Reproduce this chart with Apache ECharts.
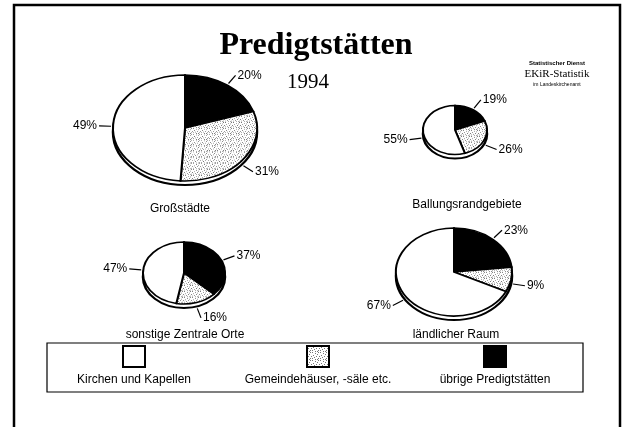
<!DOCTYPE html>
<html lang="de">
<head>
  <meta charset="UTF-8">
  <title>Predigtstätten 1994</title>
  <style>
  html, body { margin: 0; padding: 0; background: #fff; }
  #main { width: 624px; height: 427px; }
  </style>
  <script src="https://cdn.jsdelivr.net/npm/echarts@6/dist/echarts.min.js"></script>
</head>
<body>
  <div id="main"></div>
  <script>
  // Daten (Anteile in %)
  var regions = ['Großstädte', 'Ballungsrandgebiete', 'sonstige Zentrale Orte', 'ländlicher Raum'];
  var kinds = ['übrige Predigtstätten', 'Gemeindehäuser, -säle etc.', 'Kirchen und Kapellen'];
  var uebrige = [20, 19, 37, 23];
  var gemeinde = [31, 26, 16, 9];
  var kirchen = [49, 55, 47, 67];
  var legendOrder = ['Kirchen und Kapellen', 'Gemeindehäuser, -säle etc.', 'übrige Predigtstätten'];

  var SANS = '"Liberation Sans", Arial, sans-serif';
  var SERIF = '"Liberation Serif", "Times New Roman", serif';

  // gepunktetes Raster fuer die Gemeindehaeuser
  function makeDots() {
    var c = document.createElement('canvas');
    c.width = 8; c.height = 8;
    var g = c.getContext('2d');
    g.fillStyle = '#fff';
    g.fillRect(0, 0, 8, 8);
    g.fillStyle = '#777';
    var pts = [[0,0],[3,1],[6,0],[1,3],[5,2],[7,4],[2,5],[4,4],[0,6],[6,6],[3,7],[5,7]];
    pts.forEach(function (p) { g.fillRect(p[0], p[1], 1, 1); });
    return c;
  }
  var dots = { image: makeDots(), repeat: 'repeat' };
  var fills = ['#000', dots, '#fff'];

  // Lage der Torten (Mitte, Radien)
  var pies = [
    { cx: 185, cy: 128, rx: 72, ry: 53, tx: 180, ty: 209 },
    { cx: 455, cy: 130, rx: 32, ry: 24.5, tx: 467, ty: 205 },
    { cx: 184, cy: 273, rx: 41, ry: 31, tx: 185, ty: 335 },
    { cx: 454, cy: 272, rx: 58, ry: 44, tx: 456, ty: 335 }
  ];
  var RIM = 4;

  function makeSeries(p, idx) {
    var vals = [uebrige[idx], gemeinde[idx], kirchen[idx]];
    var total = vals.reduce(function (a, b) { return a + b; }, 0);
    var s = p.ry / p.rx;
    return {
      type: 'custom',
      name: regions[idx],
      coordinateSystem: 'none',
      data: vals.map(function (v, k) { return { name: kinds[k], value: v }; }),
      renderItem: function (params, api) {
        var k = params.dataIndex;
        var before = 0;
        for (var j = 0; j < k; j++) before += vals[j];
        var a0 = before / total, a1 = (before + vals[k]) / total;
        var children = [];
        if (k === 0) {
          children.push({
            type: 'circle',
            shape: { cx: 0, cy: RIM / s, r: p.rx },
            style: { fill: '#fff', stroke: '#000', lineWidth: 2.5, strokeNoScale: true }
          });
        }
        children.push({
          type: 'sector',
          shape: {
            cx: 0, cy: 0, r0: 0, r: p.rx,
            startAngle: -Math.PI / 2 + 2 * Math.PI * a0,
            endAngle: -Math.PI / 2 + 2 * Math.PI * a1,
            clockwise: true
          },
          style: { fill: fills[k], stroke: '#000', lineWidth: 2, strokeNoScale: true }
        });
        // Beschriftung
        var th = 2 * Math.PI * (a0 + a1) / 2;
        var dx = Math.sin(th), dy = -Math.cos(th);
        var ex = p.cx + p.rx * dx;
        var ey = p.cy + p.ry * dy + (dy > 0 ? RIM : 0);
        var len = Math.sqrt(dx * dx + dy * dy);
        var x1 = ex + 14 * dx / len, y1 = ey + 12 * dy / len;
        var right = dx >= 0;
        return {
          type: 'group',
          children: [
            { type: 'group', x: p.cx, y: p.cy, scaleY: s, children: children },
            {
              type: 'line',
              shape: { x1: ex + 2 * dx, y1: ey + 2 * dy, x2: x1, y2: y1 },
              style: { stroke: '#000', lineWidth: 1.2 }
            },
            {
              type: 'text',
              x: x1 + (right ? 2 : -2), y: y1,
              style: {
                text: vals[k] + '%', fill: '#000',
                font: '12px ' + SANS,
                align: right ? 'left' : 'right', verticalAlign: 'middle'
              }
            }
          ]
        };
      }
    };
  }

  var graphics = [
    // Rahmen
    { type: 'polyline', shape: { points: [[14, 427], [14, 5], [620, 5], [620, 427]] },
      style: { stroke: '#000', lineWidth: 2.5, fill: null } },
    { type: 'text', x: 316, y: 46, style: { text: 'Predigtstätten', font: 'bold 32px ' + SERIF,
      fill: '#000', align: 'center', verticalAlign: 'middle' } },
    { type: 'text', x: 308, y: 82, style: { text: '1994', font: '21px ' + SERIF,
      fill: '#000', align: 'center', verticalAlign: 'middle' } },
    { type: 'text', x: 557, y: 63, style: { text: 'Statistischer Dienst', font: 'bold 6px ' + SANS,
      fill: '#000', align: 'center', verticalAlign: 'middle' } },
    { type: 'text', x: 557, y: 74, style: { text: 'EKiR-Statistik', font: '11px ' + SERIF,
      fill: '#000', align: 'center', verticalAlign: 'middle' } },
    { type: 'text', x: 557, y: 85, style: { text: 'im Landeskirchenamt', font: '5px ' + SANS,
      fill: '#000', align: 'center', verticalAlign: 'middle' } },
    // Legendenkasten
    { type: 'rect', shape: { x: 47, y: 343, width: 536, height: 49 },
      style: { fill: '#fff', stroke: '#000', lineWidth: 1.2 } }
  ];

  pies.forEach(function (p, i) {
    graphics.push({ type: 'text', x: p.tx, y: p.ty, style: { text: regions[i], font: '12px ' + SANS,
      fill: '#000', align: 'center', verticalAlign: 'middle' } });
  });

  var legendX = [134, 318, 495];
  var legendFill = {};
  legendFill[legendOrder[0]] = '#fff';
  legendFill[legendOrder[1]] = dots;
  legendFill[legendOrder[2]] = '#000';
  legendOrder.forEach(function (name, i) {
    graphics.push({ type: 'rect', shape: { x: legendX[i] - 11, y: 346, width: 22, height: 21 },
      style: { fill: legendFill[name], stroke: '#000', lineWidth: 2 } });
    graphics.push({ type: 'text', x: legendX[i], y: 380, style: { text: name, font: '12px ' + SANS,
      fill: '#000', align: 'center', verticalAlign: 'middle' } });
  });

  var chart = echarts.init(document.getElementById('main'));
  chart.setOption({
    animation: false,
    backgroundColor: '#fff',
    graphic: graphics,
    series: pies.map(makeSeries)
  });
  </script>
</body>
</html>
